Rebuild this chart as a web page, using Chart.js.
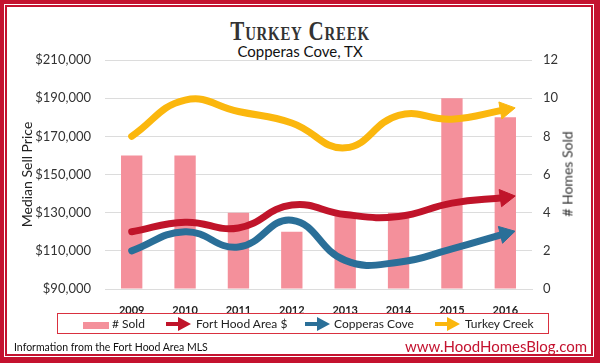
<!DOCTYPE html>
<html lang="en">
<head>
  <meta charset="UTF-8">
  <title>Turkey Creek</title>
  <script src="https://cdn.jsdelivr.net/npm/chart.js"></script>
  <style>
    * { margin: 0; padding: 0; box-sizing: border-box; }

    body {
      width: 600px;
      height: 363px;
      overflow: hidden;
      background: #c4122f;
      font-family: 'Lato', sans-serif;
      position: relative;
    }

    /* white panel with the thin red inner line */
    .panel {
      position: absolute;
      left: 4px; top: 4px; right: 6px; bottom: 6px;
      background: #fff;
      box-shadow: inset 0 0 0 1px #fff, inset 0 0 0 3px #c4122f;
    }

    .title {
      position: absolute;
      left: 0; width: 600px; top: 16px;
      text-align: center;
      font-family: 'Liberation Serif', serif;
      font-weight: bold;
      font-variant: small-caps;
      font-size: 27px;
      letter-spacing: 1px;
      color: #333;
      transform: scaleX(0.78);
    }

    .subtitle {
      position: absolute;
      left: 0; width: 600px; top: 42px;
      text-align: center;
      font-size: 15px;
      color: #111;
    }

    .y1-title {
      position: absolute;
      left: 567px; top: 174px;
      font-size: 14px;
      font-weight: normal;
      color: #333;
      white-space: nowrap;
      transform: translate(-50%, -50%) rotate(-90deg);
    }

    .chart-box {
      position: absolute;
      left: 0; top: 0;
      width: 600px; height: 363px;
    }

    /* Legend */
    .legend {
      position: absolute;
      left: 57px; top: 313px;
      width: 492px; height: 21px;
      border: 1px solid #d9303f;
      font-size: 12px;
      color: #222;
    }
    .legend span { position: absolute; top: 2px; white-space: nowrap; }
    .legend svg { position: absolute; top: 3px; }

    .source {
      position: absolute;
      left: 14px; top: 341px;
      font-size: 10.5px;
      color: #111;
    }

    .site {
      position: absolute;
      right: 13px; top: 337px;
      font-size: 15px;
      color: #c4122f;
    }
  </style>
</head>
<body>
  <div class="panel"></div>
  <div class="title">Turkey Creek</div>
  <div class="subtitle">Copperas Cove, TX</div>

  <div class="chart-box">
    <canvas id="chart" width="600" height="363"></canvas>
  </div>

  <div class="y1-title"># Homes Sold</div>

  <div class="legend">
    <svg style="left:25px;top:8px" width="26" height="7"><rect width="26" height="7" fill="#f4909b"/></svg>
    <span style="left:54px"># Sold</span>
    <svg style="left:108px" width="25" height="14"><path d="M0 5 H12 V0 L25 7 L12 14 V9 H0 Z" fill="#c0142a"/></svg>
    <span style="left:138px">Fort Hood Area $</span>
    <svg style="left:247px" width="25" height="14"><path d="M0 5 H12 V0 L25 7 L12 14 V9 H0 Z" fill="#2a6f98"/></svg>
    <span style="left:276px">Copperas Cove</span>
    <svg style="left:377px" width="25" height="14"><path d="M0 5 H12 V0 L25 7 L12 14 V9 H0 Z" fill="#fbb70e"/></svg>
    <span style="left:407px">Turkey Creek</span>
  </div>

  <div class="source">Information from the Fort Hood Area MLS</div>
  <div class="site">www.HoodHomesBlog.com</div>

  <script>
    // Data
    const years = ['2009', '2010', '2011', '2012', '2013', '2014', '2015', '2016'];
    const homesSold = [7, 7, 4, 3, 4, 4, 10, 9];
    const fortHoodPrice = [120000, 125000, 122000, 134000, 129000, 128000, 135000, 138000];
    const copperasCovePrice = [110000, 120000, 112000, 126000, 105000, 104000, 111000, 119000];
    const turkeyCreekPrice = [170000, 189000, 183000, 177000, 164000, 181000, 179000, 184000];

    const priceTicks = [90000, 110000, 130000, 150000, 170000, 190000, 210000];
    const soldTicks = [0, 2, 4, 6, 8, 10, 12];

    const RED = '#c0142a';
    const BLUE = '#2a6f98';
    const YELLOW = '#fbb70e';
    const PINK = '#f4909b';
    const GRID = '#dcdcdc';

    // arrow head only on the last point
    function arrowRadius(n) {
      return years.map((_, i) => (i === n - 1 ? 10 : 0));
    }

    function lineSet(label, data, color, rot, order) {
      return {
        type: 'line',
        label: label,
        data: data,
        yAxisID: 'y',
        borderColor: color,
        backgroundColor: color,
        borderWidth: 7,
        tension: 0.45,
        borderCapStyle: 'round',
        pointStyle: 'triangle',
        pointRadius: arrowRadius(data.length),
        pointHoverRadius: arrowRadius(data.length),
        pointBorderWidth: 1,
        pointRotation: rot,
        order: order
      };
    }

    const ctx = document.getElementById('chart').getContext('2d');
    new Chart(ctx, {
      data: {
        labels: years,
        datasets: [
          {
            type: 'bar',
            label: '# Sold',
            data: homesSold,
            yAxisID: 'y1',
            backgroundColor: PINK,
            barPercentage: 0.4,
            categoryPercentage: 1,
            order: 10
          },
          lineSet('Fort Hood Area $', fortHoodPrice, RED, 82, 3),
          lineSet('Copperas Cove', copperasCovePrice, BLUE, 76, 2),
          lineSet('Turkey Creek', turkeyCreekPrice, YELLOW, 80, 1)
        ]
      },
      options: {
        responsive: false,
        animation: false,
        layout: { padding: { top: 60, left: 0, right: 0, bottom: 0 } },
        plugins: {
          legend: { display: false },
          tooltip: { enabled: false }
        },
        scales: {
          x: {
            grid: { display: false },
            border: { color: GRID },
            ticks: {
              color: '#222',
              font: { family: 'Lato', size: 11, weight: 'bold' },
              padding: 7
            },
            afterFit: s => { s.height = 74; }
          },
          y: {
            position: 'left',
            min: 90000,
            max: 210000,
            afterBuildTicks: s => { s.ticks = priceTicks.map(v => ({ value: v })); },
            grid: { color: GRID, drawTicks: false },
            border: { display: false },
            ticks: {
              color: '#333',
              font: { family: 'Lato', size: 13 },
              padding: 14,
              callback: v => '$' + v.toLocaleString('en-US')
            },
            title: {
              display: true,
              text: 'Median Sell Price',
              color: '#222',
              font: { family: 'Lato', size: 14 },
              padding: { top: 19, bottom: 0 }
            },
            afterFit: s => { s.width = 105; }
          },
          y1: {
            position: 'right',
            min: 0,
            max: 12,
            afterBuildTicks: s => { s.ticks = soldTicks.map(v => ({ value: v })); },
            grid: { drawOnChartArea: false, drawTicks: false },
            border: { display: false },
            ticks: {
              color: '#333',
              font: { family: 'Lato', size: 13 },
              padding: 11
            },
            afterFit: s => { s.width = 68; }
          }
        }
      }
    });
  </script>
</body>
</html>
